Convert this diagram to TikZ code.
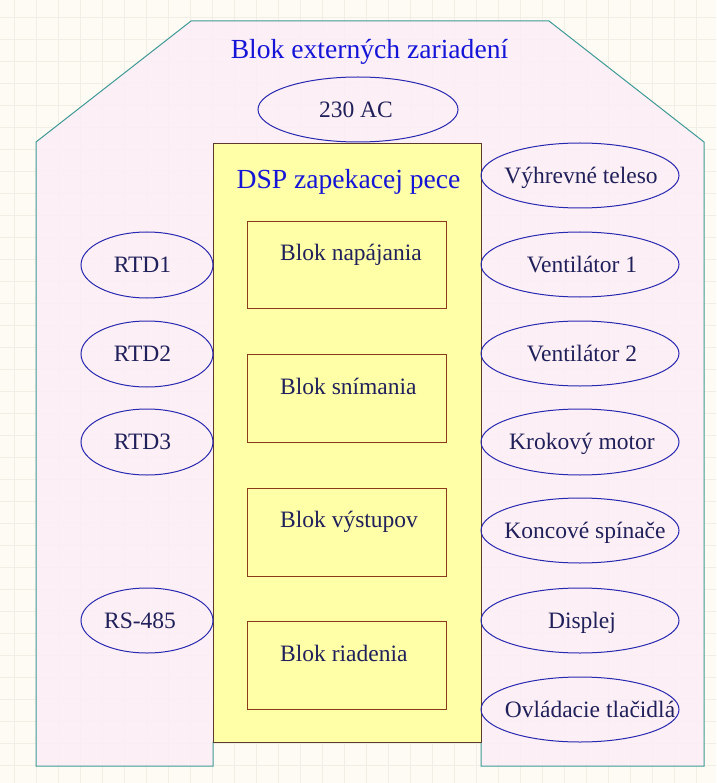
\documentclass[tikz,border=0pt]{standalone}
\usepackage{fontspec}
\setmainfont{Liberation Serif}
\usetikzlibrary{shapes.geometric}
\definecolor{bgc}{HTML}{FDFBF3}
\definecolor{gridc}{HTML}{F1EEE3}
\definecolor{pinkc}{HTML}{FCEEF6}
\definecolor{tealc}{HTML}{3F9A96}
\definecolor{yellowc}{HTML}{FFFFA8}
\definecolor{dspline}{HTML}{5C3A2E}
\definecolor{boxline}{HTML}{8B3A1A}
\definecolor{ellc}{HTML}{2828B0}
\definecolor{txtc}{HTML}{20205A}
\definecolor{titc}{HTML}{1515D8}
\begin{document}
\begin{tikzpicture}[x=1pt,y=-1pt,
  extell/.style={ellipse, draw=ellc, line width=1pt, inner sep=0pt},
  lbl/.style={text=txtc, font=\fontsize{23.5}{28}\selectfont, inner sep=0pt, text height=15.5pt, text depth=0pt},
  titl/.style={text=titc, font=\fontsize{27.6}{32}\selectfont, inner sep=0pt, anchor=base},
  blokbox/.style={draw=boxline, fill=yellowc, line width=1.1pt, minimum width=199pt, inner sep=0pt, anchor=north west},
  bloklbl/.style={text=txtc, font=\fontsize{23.5}{28}\selectfont, inner sep=0pt, anchor=base west}]
\useasboundingbox (0,0) rectangle (716,783);
\fill[bgc] (0,0) rectangle (716,783);
\foreach \x in {14,36,...,712} \draw[gridc, line width=0.6pt] (\x,0) -- (\x,783);
\foreach \y in {17,39,...,783} \draw[gridc, line width=0.6pt] (0,\y) -- (716,\y);
% outer block
\path[fill=pinkc, fill opacity=0.9, draw=tealc, line width=1pt]
  (36,142) -- (191,21) -- (549,21) -- (704,142) -- (704,766) -- (481,766) -- (481,742)
  -- (213,742) -- (213,766) -- (36,766) -- cycle;
\node[titl] (title) at (369.5,59) {Blok externých zariadení};
% DSP block
\node[draw=dspline, fill=yellowc, line width=1.1pt, minimum width=268pt, minimum height=599pt, inner sep=0pt, anchor=north west] (dsp) at (213,143) {};
\node[titl] (dsptitle) at (348.5,189) {DSP zapekacej pece};
\node[blokbox, minimum height=87pt] (b1) at (247,221) {};
\node[blokbox, minimum height=88pt] (b2) at (247,354) {};
\node[blokbox, minimum height=88pt] (b3) at (247,488) {};
\node[blokbox, minimum height=88pt] (b4) at (247,621) {};
\node[bloklbl] (b1t) at (280,261) {Blok napájania};
\node[bloklbl] (b2t) at (280,394) {Blok snímania};
\node[bloklbl] (b3t) at (280,527) {Blok výstupov};
\node[bloklbl] (b4t) at (280,661) {Blok riadenia};
% 230 AC
\node[extell, minimum width=200pt, minimum height=65pt] (ac) at (358,109.5) {};
\node[lbl] (act) at (356,109.5) {230 AC};
% left
\node[extell, minimum width=132pt, minimum height=66pt] (rtd1) at (147,265) {};
\node[extell, minimum width=132pt, minimum height=66pt] (rtd2) at (147,354) {};
\node[extell, minimum width=132pt, minimum height=66pt] (rtd3) at (147,442) {};
\node[extell, minimum width=132pt, minimum height=65pt] (rs) at (147,620.5) {};
\node[lbl] (rtd1t) at (142.5,265) {RTD1};
\node[lbl] (rtd2t) at (142.5,354) {RTD2};
\node[lbl] (rtd3t) at (142.5,442) {RTD3};
\node[lbl] (rst) at (140,620.5) {RS-485};
% right
\node[extell, minimum width=198pt, minimum height=65pt] (vt) at (580,175.5) {};
\node[extell, minimum width=198pt, minimum height=65pt] (v1) at (580,264.5) {};
\node[extell, minimum width=198pt, minimum height=65pt] (v2) at (580,353.5) {};
\node[extell, minimum width=198pt, minimum height=66pt] (km) at (580,442) {};
\node[extell, minimum width=198pt, minimum height=65pt] (ks) at (580,530.5) {};
\node[extell, minimum width=198pt, minimum height=65pt] (dp) at (580,620.5) {};
\node[extell, minimum width=198pt, minimum height=65pt] (ot) at (580,709.5) {};
\node[lbl] (vtt) at (581,175.5) {Výhrevné teleso};
\node[lbl] (v1t) at (582,264.5) {Ventilátor 1};
\node[lbl] (v2t) at (582,353.5) {Ventilátor 2};
\node[lbl] (kmt) at (582,442) {Krokový motor};
\node[lbl] (kst) at (585,530.5) {Koncové spínače};
\node[lbl] (dpt) at (582,620.5) {Displej};
\node[lbl] (ott) at (590,709.5) {Ovládacie tlačidlá};
\end{tikzpicture}
\end{document}
